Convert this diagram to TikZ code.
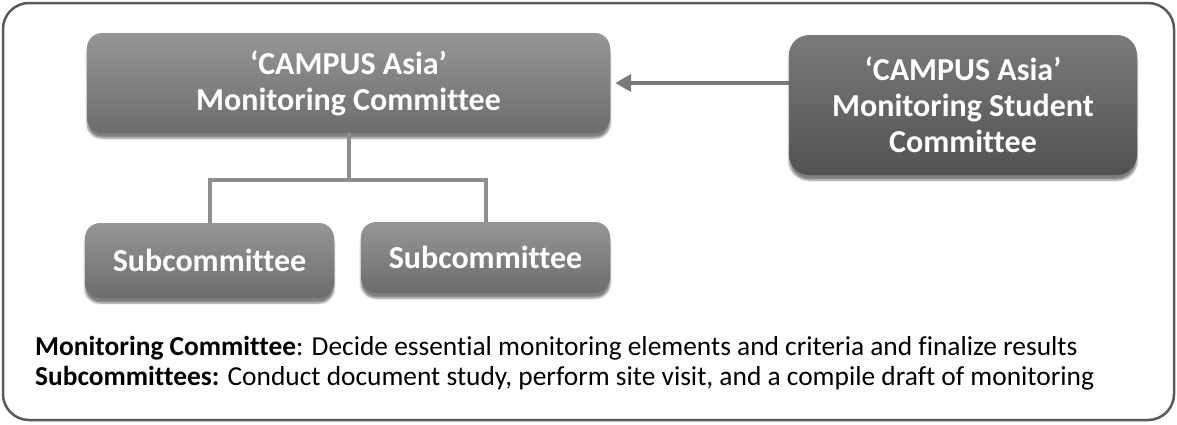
\documentclass[tikz,border=0pt]{standalone}
\usepackage{fontspec}
\setmainfont{Carlito}[Ligatures=NoCommon]
\usetikzlibrary{arrows.meta,shadows.blur}
\definecolor{frame}{HTML}{5A5A5A}
\definecolor{midtop}{HTML}{969696}
\definecolor{midbot}{HTML}{6C6C6C}
\definecolor{darktop}{HTML}{7A7A7A}
\definecolor{darkbot}{HTML}{525252}
\definecolor{wire}{HTML}{8E8E8E}

\begin{document}
\begin{tikzpicture}[x=1pt,y=-1pt,
		box/.style={rounded corners=15pt, inner sep=0pt, align=center, text=white,
			font=\bfseries\fontsize{32}{36}\selectfont,
			blur shadow={shadow xshift=0pt, shadow yshift=-5pt, shadow blur steps=6, shadow opacity=50}},
		midbox/.style={box, top color=midtop, bottom color=midbot},
		darkbox/.style={box, rounded corners=20pt, top color=darktop, bottom color=darkbot},
		link/.style={draw=wire, line width=4pt},
		arr/.style={draw=wire!85!black, line width=4pt, -{Triangle[length=16pt,width=17pt]}, shorten >=5pt},
		note/.style={anchor=base west, inner sep=0pt, font=\fontsize{27.4}{30}\selectfont}]
		\useasboundingbox (0,0) rectangle (1177,424);
		\draw[frame, line width=2.5pt, rounded corners=26pt] (3,3) rectangle (1174,420);
		
		\node[midbox, minimum width=523pt, minimum height=100pt] (mc) at (348.5,83) {`CAMPUS Asia'\\Monitoring Committee};
		\node[darkbox, minimum width=348pt, minimum height=140pt] (sc) at (963,105) {`CAMPUS Asia'\\Monitoring Student\\Committee};
		\node[midbox, minimum width=249pt, minimum height=75pt] (subA) at (209.5,260.5) {Subcommittee};
		\node[midbox, minimum width=249pt, minimum height=71pt] (subB) at (485.5,257.5) {Subcommittee};
		\coordinate (jn) at (353,180);
		
		\path[link]
		(mc) -- (mc |- jn) -| (subA)
		(mc |- jn) -| (subB)
		;
		\path[arr] (sc.west |- mc.east) -- (mc.east);
		
		\node[note] (n1) at (35,355) {\textbf{Monitoring Committee}: Decide essential monitoring elements and criteria and finalize results};
		\node[note] (n2) at (35,385) {\textbf{Subcommittees:} Conduct document study, perform site visit, and a compile draft of monitoring};
	\end{tikzpicture}
\end{document}
